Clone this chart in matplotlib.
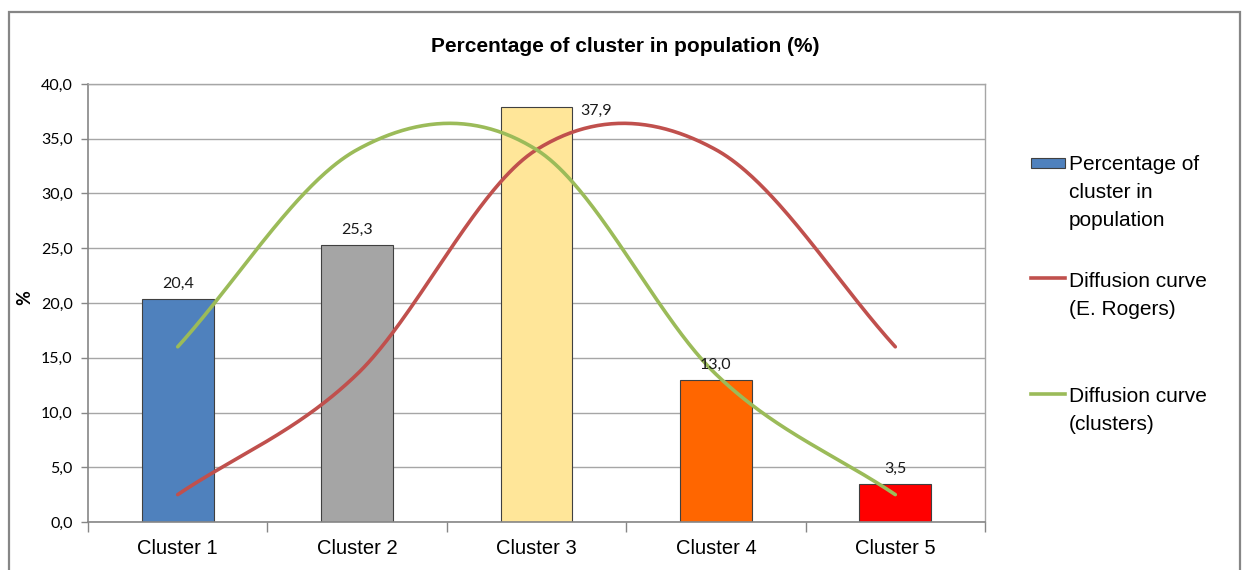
import numpy as np
import matplotlib
matplotlib.use('Agg')
import matplotlib.pyplot as plt
from matplotlib import font_manager
from matplotlib.patches import Rectangle
from matplotlib.lines import Line2D
from matplotlib.ticker import FuncFormatter, MultipleLocator, FixedLocator

# ---------------- data ----------------
categories = ['Cluster 1', 'Cluster 2', 'Cluster 3', 'Cluster 4', 'Cluster 5']
share = [20.4, 25.3, 37.9, 13.0, 3.5]
rogers_curve = [2.5, 13.5, 34.0, 34.0, 16.0]
clusters_curve = [16.0, 34.0, 34.0, 13.5, 2.5]
bar_colors = ['#4F81BD', '#A5A5A5', '#FFE699', '#FF6600', '#FF0000']
title_text = 'Percentage of cluster in population (%)'
legend_labels = [['Percentage of', 'cluster in', 'population'],
                 ['Diffusion curve', '(E. Rogers)'],
                 ['Diffusion curve', '(clusters)']]

W, H = 1245, 570

installed = {f.name for f in font_manager.fontManager.ttflist}
HAS_NARROW = 'Liberation Sans Narrow' in installed
print('narrow:', HAS_NARROW)
NARROW = 'Liberation Sans Narrow' if HAS_NARROW else 'Liberation Sans'


def comma(v, _=None):
    return f'{v:.1f}'.replace('.', ',')


def smooth(y, n=80):
    """Excel-like smoothed line (Catmull-Rom Bezier)."""
    y = np.asarray(y, float)
    ext = np.concatenate([[2 * y[0] - y[1]], y, [2 * y[-1] - y[-2]]])
    xs, ys = [], []
    t = np.linspace(0, 1, n)
    for i in range(len(y) - 1):
        p0, p1, p2, p3 = ext[i], ext[i + 1], ext[i + 2], ext[i + 3]
        c1 = p1 + (p2 - p0) / 6
        c2 = p2 - (p3 - p1) / 6
        b = (1 - t) ** 3 * p1 + 3 * (1 - t) ** 2 * t * c1 + 3 * (1 - t) * t ** 2 * c2 + t ** 3 * p2
        xs.append(i + t)
        ys.append(b)
    return np.concatenate(xs), np.concatenate(ys)


fig = plt.figure(figsize=(W / 100, H / 100), dpi=100)
fig.patch.set_facecolor('white')

# outer chart border
fig.add_artist(Rectangle((9 / W, -0.1), (1240 - 9) / W, 1 - 12 / H + 0.1,
                         transform=fig.transFigure, fill=False,
                         edgecolor='#868686', lw=1.6, clip_on=False))

ax = fig.add_axes([88 / W, 1 - 522 / H, (985 - 88) / W, (522 - 84) / H])

x = np.arange(len(categories))
ax.bar(x, share, width=0.4, color=bar_colors, edgecolor='#404040', lw=0.8, zorder=2)

xr, yr = smooth(rogers_curve)
xg, yg = smooth(clusters_curve)
ax.plot(xr, yr, color='#C0504D', lw=2.6, zorder=3, solid_capstyle='round')
ax.plot(xg, yg, color='#9BBB59', lw=2.6, zorder=3, solid_capstyle='round')

# data labels
for i, v in enumerate(share):
    if v > 36:
        off = (60, -4)
    else:
        off = (0, 15)
    ax.annotate(comma(v), (i, v), xytext=off, textcoords='offset pixels',
                ha='center', va='center', fontsize=11.5, family='Lato', color='#1a1a1a')

ax.set_xlim(-0.5, len(categories) - 0.5)
ax.set_ylim(0, 40)
ax.yaxis.set_major_locator(MultipleLocator(5))
ax.yaxis.set_major_formatter(FuncFormatter(comma))
ax.grid(axis='y', color='#A6A6A6', lw=1.0, zorder=0)
ax.set_axisbelow(True)

ax.set_xticks(x)
ax.set_xticklabels(categories, fontsize=17 if HAS_NARROW else 14.5, family=NARROW)
ax.xaxis.set_minor_locator(FixedLocator(np.arange(-0.5, len(categories), 1.0)))
ax.tick_params(axis='x', which='major', length=0, pad=12)
ax.tick_params(axis='x', which='minor', length=7, color='#868686', width=1)
ax.tick_params(axis='y', length=5, color='#868686', width=1, pad=6)
for lab in ax.get_yticklabels():
    lab.set_family('Lato')
    lab.set_fontsize(11.5)

for s in ['left', 'bottom']:
    ax.spines[s].set_color('#868686')
    ax.spines[s].set_linewidth(1.2)
for s in ['top', 'right']:
    ax.spines[s].set_color('#A6A6A6')
    ax.spines[s].set_linewidth(1.0)

# title and y label
fig.text(625 / W, 1 - 52 / H, title_text, ha='center', va='baseline',
         fontsize=17.5 if HAS_NARROW else 15, fontweight='bold', family=NARROW)
fig.text(25 / W, 1 - 298 / H, '%', ha='center', va='center', rotation=90,
         fontsize=13, fontweight='bold', family='Lato')

# legend
fig.add_artist(Rectangle((1031 / W, 1 - 168 / H), 34 / W, 10 / H, transform=fig.transFigure,
                         facecolor=bar_colors[0], edgecolor='#404040', lw=0.8))
fig.add_artist(Line2D([1031 / W, 1065 / W], [1 - 278 / H] * 2, transform=fig.transFigure,
                      color='#C0504D', lw=2.6))
fig.add_artist(Line2D([1031 / W, 1065 / W], [1 - 394 / H] * 2, transform=fig.transFigure,
                      color='#9BBB59', lw=2.6))
baselines = [[170, 198, 226], [287, 315], [402, 430]]
for lines, bls in zip(legend_labels, baselines):
    for txt, b in zip(lines, bls):
        fig.text(1069 / W, 1 - b / H, txt, ha='left', va='baseline',
                 fontsize=15, family='Liberation Sans')

fig.savefig('out.png', dpi=100)
